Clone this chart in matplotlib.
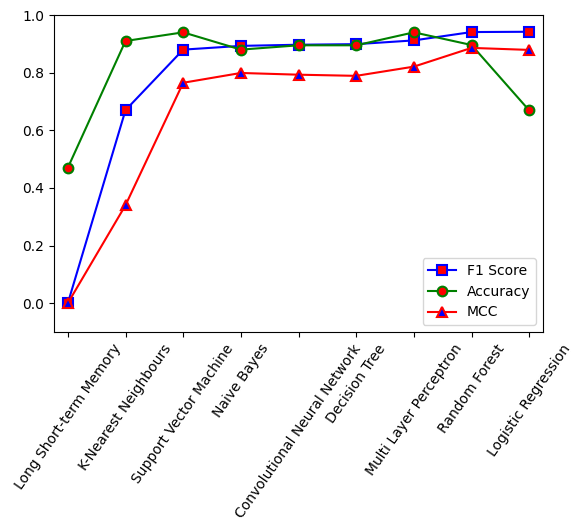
import matplotlib
matplotlib.use("Agg")
import matplotlib.pyplot as plt

models = [
    "Long Short-term Memory",
    "K-Nearest Neighbours",
    "Support Vector Machine",
    "Naive Bayes",
    "Convolutional Neural Network",
    "Decision Tree",
    "Multi Layer Perceptron",
    "Random Forest",
    "Logistic Regression",
]
f1_score = [0.0, 0.670, 0.880, 0.893, 0.897, 0.899, 0.912, 0.941, 0.942]
accuracy = [0.470, 0.910, 0.940, 0.880, 0.895, 0.895, 0.940, 0.896, 0.669]
mcc = [0.0, 0.340, 0.765, 0.799, 0.793, 0.789, 0.821, 0.886, 0.879]

fig = plt.figure(figsize=(5.72, 5.30), dpi=100)
ax = fig.add_axes([0.0944, 0.3736, 0.855, 0.598])

x = range(len(models))
mk = dict(markersize=7, markeredgewidth=1.5)
ax.plot(x, f1_score, "-s", color="blue", markerfacecolor="red",
        markeredgecolor="blue", label="F1 Score", **mk)
ax.plot(x, accuracy, "-o", color="green", markerfacecolor="red",
        markeredgecolor="green", label="Accuracy", **mk)
ax.plot(x, mcc, "-^", color="red", markerfacecolor="blue",
        markeredgecolor="red", label="MCC", **mk)

ax.set_xticks(list(x))
ax.set_xticklabels(models, rotation=55)
ax.set_xlim(-0.24, len(models) - 1 + 0.24)
ax.set_ylim(-0.1, 1.0)
ax.legend(loc="lower right")

fig.savefig("out.png", dpi=100)
